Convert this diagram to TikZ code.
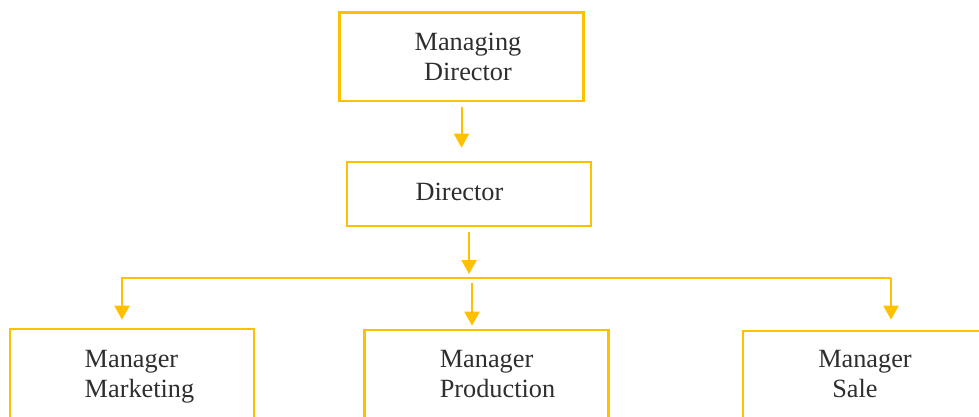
\documentclass[tikz,border=0pt]{standalone}
\usepackage{fontspec}
\setmainfont{Liberation Serif}
\usetikzlibrary{arrows.meta}
\definecolor{amber}{RGB}{255,192,0}

\begin{document}
\begin{tikzpicture}[x = 1pt, y = -1pt]
  \tikzstyle{post}=[rectangle, draw = amber, line width = 2.6pt, inner sep = 0pt, minimum width = 244pt]
  \tikzstyle{connect}=[-{Triangle[width = 15pt, length = 14pt]}, draw = amber, line width = 2pt]
  \tikzstyle{title}=[inner sep = 0pt, text = black!82, font = \fontsize{26.3}{30}\selectfont]

  \useasboundingbox (0,0) rectangle (979,416);
  \clip (0,0) rectangle (979,416);

  % boxes
  \node[post, minimum height = 88.5pt] (md) at (461.5,56.75) { };
  \node[post, minimum height = 64pt] (dir) at (469,194) { };
  \node[post, minimum height = 120pt] (mkt) at (132,389) { };
  \node[post, minimum height = 120pt] (prd) at (486.5,390) { };
  \node[post, minimum height = 120pt] (sale) at (865,391) { };

  % texts
  \node[title, align = center] (md-t) at (468,56.5) {Managing\\Director};
  \node[title] (dir-t) at (459.5,191.5) {Director};
  \node[title, align = left] (mkt-t) at (139.5,377) {Manager\\Marketing};
  \node[title, align = left] (prd-t) at (497.5,374) {Manager\\Production};
  \node[title, align = left] (sale-t) at (865,374.5) {Manager\\\hspace*{14pt}Sale};

  \coordinate (bus) at (469,277.5);
  \coordinate (bus-l) at (122,277.5);
  \coordinate (bus-r) at (891,277.5);

  \draw[connect, shorten <= 5pt, shorten >= 13pt] (md.south) -- (md.south |- dir.north);
  \draw[connect, shorten <= 5pt, shorten >= 3.5pt] (dir.south) -- (bus);

  \draw[connect, shorten >= 8pt] (bus-r) -- (bus-l) -- (bus-l |- mkt.north);
  \draw[connect, shorten >= 10pt] (bus-r) -- (bus-r |- sale.north);
  \draw[connect, shorten <= 5.5pt, shorten >= 3pt] ([xshift = 3pt]bus) -- ([xshift = 3pt]bus |- prd.north);

\end{tikzpicture}
\end{document}
